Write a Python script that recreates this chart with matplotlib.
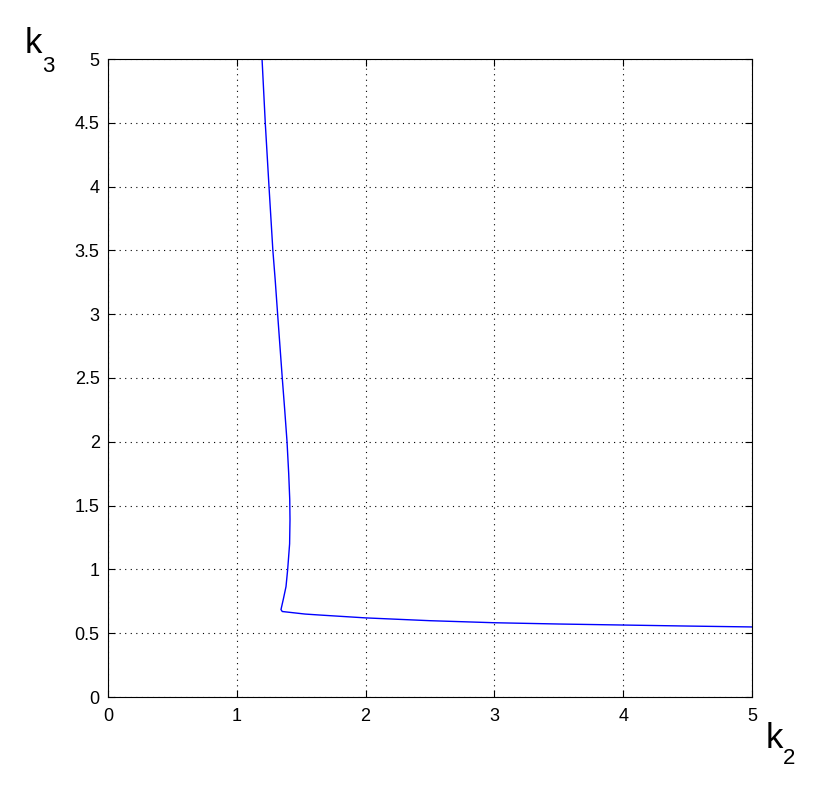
import matplotlib
matplotlib.use("Agg")
import matplotlib.pyplot as plt
import numpy as np

# Upper (near-vertical) branch, top to corner
k2_upper = [1.196, 1.221, 1.250, 1.280, 1.298, 1.317, 1.335, 1.353, 1.372, 1.390, 1.403, 1.411, 1.413, 1.410, 1.395, 1.382, 1.362, 1.343]
k3_upper = [5.000, 4.500, 4.000, 3.500, 3.270, 3.000, 2.750, 2.500, 2.250, 2.000, 1.750, 1.550, 1.390, 1.200, 1.000, 0.865, 0.770, 0.685]
# Lower (near-horizontal) branch, corner to right edge
k2_lower = [1.353, 1.530, 1.650, 2.000, 2.500, 3.000, 3.500, 4.000, 4.500, 5.000]
k3_lower = [0.670, 0.650, 0.642, 0.620, 0.598, 0.582, 0.572, 0.564, 0.556, 0.549]

xticks = [0, 1, 2, 3, 4, 5]
yticks = [0, 0.5, 1, 1.5, 2, 2.5, 3, 3.5, 4, 4.5, 5]

plt.rcParams['font.family'] = ['Liberation Sans', 'DejaVu Sans']

fig = plt.figure(figsize=(8.30, 7.85), dpi=100)
ax = fig.add_axes([108/830, 1-697/785, (752-108)/830, (697-59)/785])

k2 = k2_upper + k2_lower
k3 = k3_upper + k3_lower
ax.plot(k2, k3, color=(0, 0, 1), lw=1.0)

ax.set_xlim(0, 5)
ax.set_ylim(0, 5)
ax.set_xticks(xticks)
ax.set_xticklabels([str(t) for t in xticks])
ax.set_yticks(yticks)
ax.set_yticklabels([("%g" % t) for t in yticks])
ax.grid(True, color='black', linestyle=(0, (1, 4)), linewidth=0.8)
ax.tick_params(direction='in', top=True, right=True, length=5, width=0.8,
               labelsize=13)
ax.tick_params(axis='x', pad=8)
ax.tick_params(axis='y', pad=6)
for s in ax.spines.values():
    s.set_linewidth(0.8)

fig.text(25/830, 1-53/785, "k", fontsize=25, ha='left', va='baseline')
fig.text(42/830, 1-72/785, "3", fontsize=16, ha='left', va='baseline')
fig.text(766/830, 1-748/785, "k", fontsize=25, ha='left', va='baseline')
fig.text(783/830, 1-764/785, "2", fontsize=16, ha='left', va='baseline')

fig.savefig("out.png", dpi=100)
